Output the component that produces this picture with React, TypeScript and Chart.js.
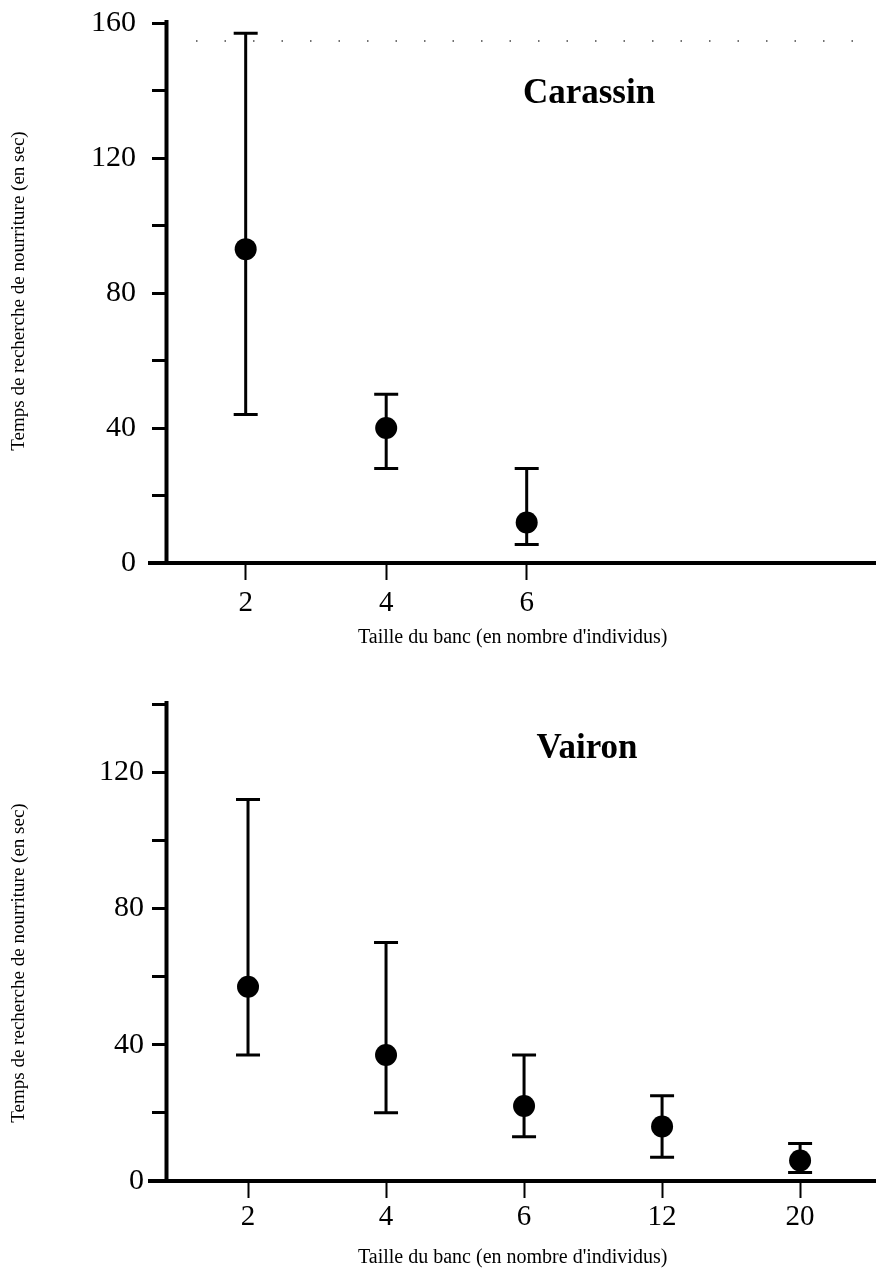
import { useEffect, useRef } from 'react';
import { Chart, registerables } from 'chart.js';

Chart.register(...registerables);

// Carassin: feeding search time by school size
const carassinSizes = ['2', '4', '6'];
const carassinMeans = [93, 40, 12];
const carassinUpper = [157, 50, 28];
const carassinLower = [44, 28, 5.5];

// Vairon: feeding search time by school size
const vaironSizes = ['2', '4', '6', '12', '20'];
const vaironMeans = [57, 37, 22, 16, 6];
const vaironUpper = [112, 70, 37, 25, 11];
const vaironLower = [37, 20, 13, 7, 2.5];

const labelledYTicks = [0, 40, 80, 120, 160];

const yTitle = 'Temps de recherche de nourriture (en sec)';
const xTitle = "Taille du banc (en nombre d'individus)";

const SERIF = '"Liberation Serif", "Times New Roman", serif';

type PanelProps = {
  name: string;
  sizes: string[];
  means: number[];
  upper: number[];
  lower: number[];
  yMax: number;
  xMin: number;
  xMax: number;
  top: number;
  height: number;
  padTop: number;
  plotBottom: number;
  yLabelPad: number;
  xLabelPad: number;
  nameDx: number;
  nameDy: number;
  yTitleCy: number;
  xTitleY: number;
  dotted: boolean;
};

// keep the plot area fixed: no extra room reserved for edge labels
const noEdgePadding = (scale: any) => {
  scale.paddingLeft = 0;
  scale.paddingRight = 0;
  scale.paddingTop = 0;
  scale.paddingBottom = 0;
};

function Panel(p: PanelProps) {
  const ref = useRef<HTMLCanvasElement | null>(null);

  useEffect(() => {
    if (!ref.current) return;

    const decor = {
      id: 'panelDecor',
      beforeDatasetsDraw(chart: any) {
        const { ctx } = chart;
        const x = chart.scales.x;
        const y = chart.scales.y;
        ctx.save();
        ctx.strokeStyle = '#000';
        ctx.lineWidth = 3;
        p.upper.forEach((u, i) => {
          const px = x.getPixelForValue(i);
          const pu = y.getPixelForValue(u);
          const pl = y.getPixelForValue(p.lower[i]);
          ctx.beginPath();
          ctx.moveTo(px, pu);
          ctx.lineTo(px, pl);
          ctx.moveTo(px - 12, pu);
          ctx.lineTo(px + 12, pu);
          ctx.moveTo(px - 12, pl);
          ctx.lineTo(px + 12, pl);
          ctx.stroke();
        });
        ctx.restore();
      },
      afterDraw(chart: any) {
        const { ctx, chartArea } = chart;
        ctx.save();
        ctx.strokeStyle = '#000';
        ctx.lineWidth = 4;
        // axes
        ctx.beginPath();
        ctx.moveTo(148, chartArea.bottom);
        ctx.lineTo(chart.width, chartArea.bottom);
        ctx.moveTo(chartArea.left - 0.5, chartArea.top - 3);
        ctx.lineTo(chartArea.left - 0.5, chartArea.bottom);
        ctx.stroke();

        if (p.dotted) {
          ctx.lineWidth = 1.5;
          ctx.strokeStyle = '#444';
          ctx.setLineDash([1.5, 27]);
          ctx.beginPath();
          ctx.moveTo(196, 41);
          ctx.lineTo(chart.width, 41);
          ctx.stroke();
          ctx.setLineDash([]);
        }

        ctx.fillStyle = '#000';
        // species name
        ctx.font = `bold 35px ${SERIF}`;
        ctx.textAlign = 'center';
        ctx.textBaseline = 'alphabetic';
        ctx.fillText(p.name, chartArea.left + p.nameDx, chartArea.top + p.nameDy);

        // x title
        ctx.font = `20px ${SERIF}`;
        ctx.textAlign = 'left';
        ctx.fillText(xTitle, 358, p.xTitleY);

        // y title
        ctx.save();
        ctx.translate(24, p.yTitleCy);
        ctx.rotate(-Math.PI / 2);
        ctx.font = `19px ${SERIF}`;
        ctx.textAlign = 'center';
        ctx.fillText(yTitle, 0, 0);
        ctx.restore();

        ctx.restore();
      },
    };

    const chart = new Chart(ref.current, {
      type: 'scatter',
      data: {
        datasets: [
          {
            data: p.means.map((v, i) => ({ x: i, y: v })),
            pointRadius: 11,
            pointHoverRadius: 11,
            pointBackgroundColor: '#000',
            pointBorderWidth: 0,
            showLine: false,
          },
        ],
      },
      options: {
        animation: false,
        responsive: false,
        maintainAspectRatio: false,
        layout: {
          autoPadding: false,
          padding: { top: p.padTop, right: 0, bottom: 0, left: 0 },
        },
        plugins: {
          legend: { display: false },
          tooltip: { enabled: false },
          title: { display: false },
        },
        scales: {
          x: {
            type: 'linear',
            min: p.xMin,
            max: p.xMax,
            border: { display: false },
            grid: {
              drawOnChartArea: false,
              drawTicks: true,
              tickLength: 17,
              tickWidth: 2,
              color: '#000',
            },
            afterBuildTicks: (scale: any) => {
              scale.ticks = p.sizes.map((_, i) => ({ value: i }));
            },
            afterFit: (scale: any) => {
              scale.height = p.height - p.plotBottom;
              noEdgePadding(scale);
            },
            ticks: {
              autoSkip: false,
              maxRotation: 0,
              padding: p.xLabelPad,
              color: '#000',
              font: { family: SERIF, size: 29 },
              callback: (v: any) => p.sizes[v] ?? '',
            },
          },
          y: {
            min: 0,
            max: p.yMax,
            border: { display: false },
            grid: {
              drawOnChartArea: false,
              drawTicks: true,
              tickLength: 15,
              tickWidth: 3,
              color: '#000',
            },
            afterFit: (scale: any) => {
              scale.width = 167;
              noEdgePadding(scale);
            },
            ticks: {
              stepSize: 20,
              padding: p.yLabelPad,
              color: '#000',
              font: { family: SERIF, size: 30 },
              callback: (v: any) => (labelledYTicks.includes(v) ? String(v) : ''),
            },
          },
        },
      },
      plugins: [decor],
    });

    return () => chart.destroy();
  }, []);

  return (
    <canvas
      ref={ref}
      width={876}
      height={p.height}
      style={{ position: 'absolute', left: 0, top: p.top, width: 876, height: p.height }}
    />
  );
}

export default function App() {
  return (
    <div style={{ position: 'absolute', left: 0, top: 0, width: 876, height: 1275, background: '#fff' }}>
      <Panel
        name="Carassin"
        sizes={carassinSizes}
        means={carassinMeans}
        upper={carassinUpper}
        lower={carassinLower}
        yMax={160}
        xMin={-0.56}
        xMax={4.486}
        top={0}
        height={660}
        padTop={23}
        plotBottom={563}
        yLabelPad={16}
        xLabelPad={6}
        nameDx={422}
        nameDy={80}
        yTitleCy={291}
        xTitleY={643}
        dotted={true}
      />
      <Panel
        name="Vairon"
        sizes={vaironSizes}
        means={vaironMeans}
        upper={vaironUpper}
        lower={vaironLower}
        yMax={140}
        xMin={-0.587}
        xMax={4.55}
        top={660}
        height={615}
        padTop={44}
        plotBottom={521}
        yLabelPad={8}
        xLabelPad={2}
        nameDx={420}
        nameDy={54}
        yTitleCy={303}
        xTitleY={603}
        dotted={false}
      />
    </div>
  );
}
